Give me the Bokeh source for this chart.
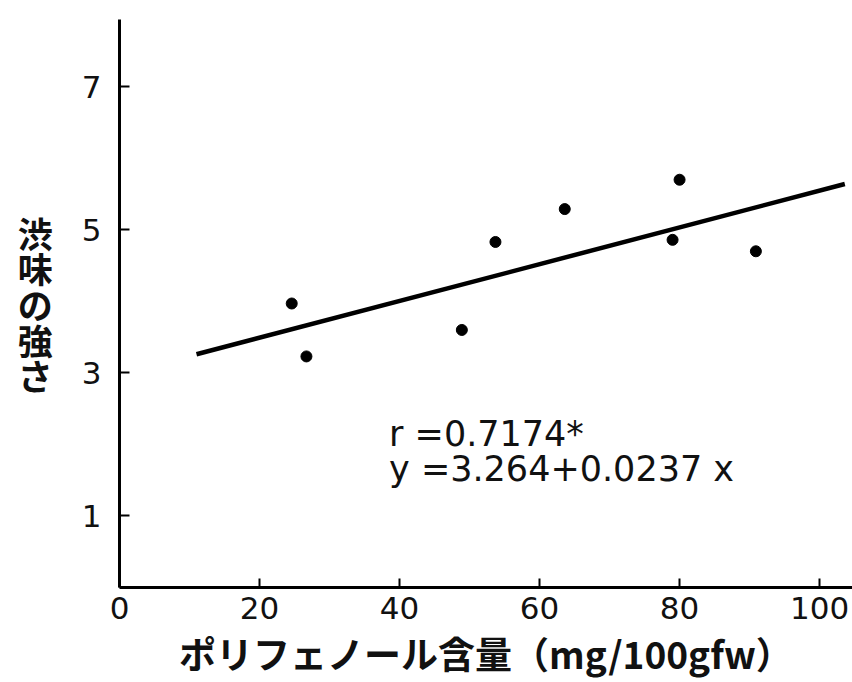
from bokeh.plotting import figure
from bokeh.models import Label, Range1d, FixedTicker
from bokeh.embed import file_html
from bokeh.resources import INLINE

# Data
polyphenol = [24.6, 26.7, 48.9, 53.7, 63.6, 80.0, 79.0, 90.9]
astringency = [3.97, 3.23, 3.60, 4.83, 5.29, 5.70, 4.86, 4.70]
fit_x = [11.0, 103.6]
fit_y = [3.26, 5.64]
x_ticks = [0, 20, 40, 60, 80, 100]
y_ticks = [1, 3, 5, 7]
x_title = "ポリフェノール含量（mg/100gfw）"
y_title = "渋\n味\nの\n強\nさ"
r_text = "r =0.7174*"
eq_text = "y =3.264+0.0237 x"

W, H = 852, 682
p = figure(width=W, height=H, output_backend="svg", toolbar_location=None,
           x_range=Range1d(0, 104.7), y_range=Range1d(0, 7.94),
           min_border_left=119, min_border_right=0, min_border_top=19,
           min_border_bottom=95)
p.outline_line_color = None
p.xgrid.visible = False
p.ygrid.visible = False
p.background_fill_color = "white"
p.border_fill_color = "white"

for ax in (p.xaxis[0], p.yaxis[0]):
    ax.axis_line_width = 3
    ax.axis_line_color = "black"
    ax.major_tick_line_color = "black"
    ax.major_tick_line_width = 2
    ax.major_tick_out = 0
    ax.minor_tick_line_color = None
    ax.major_label_text_font = "DejaVu Sans"
    ax.major_label_text_font_size = "31px"
    ax.major_label_text_color = "#111111"
    ax.axis_label_text_font = "Noto Sans CJK JP"
    ax.axis_label_text_font_style = "bold"
    ax.axis_label_text_color = "#111111"

p.xaxis.ticker = FixedTicker(ticks=x_ticks)
p.yaxis.ticker = FixedTicker(ticks=y_ticks)
p.xaxis.major_tick_in = 9
p.yaxis.major_tick_in = 10
p.xaxis.major_label_standoff = 9
p.yaxis.major_label_standoff = 18

p.xaxis.axis_label = x_title
p.xaxis.axis_label_text_font_size = "37px"
p.xaxis.axis_label_standoff = 4

p.yaxis.axis_label = y_title
p.yaxis.axis_label_orientation = "horizontal"
p.yaxis.axis_label_text_font_size = "35px"
p.yaxis.axis_label_text_line_height = 0.7
p.yaxis.axis_label_standoff = 26

p.line(fit_x, fit_y, line_color="black", line_width=4.5)
p.scatter(polyphenol, astringency, size=11, color="black")

p.add_layout(Label(x=38.5, y=2.14, text=r_text, text_font="DejaVu Sans",
                   text_font_size="35px", text_color="#111111",
                   text_baseline="alphabetic"))
p.add_layout(Label(x=38.5, y=1.65, text=eq_text, text_font="DejaVu Sans",
                   text_font_size="35px", text_color="#111111",
                   text_baseline="alphabetic"))

open("out.html", "w").write(file_html(p, INLINE))
